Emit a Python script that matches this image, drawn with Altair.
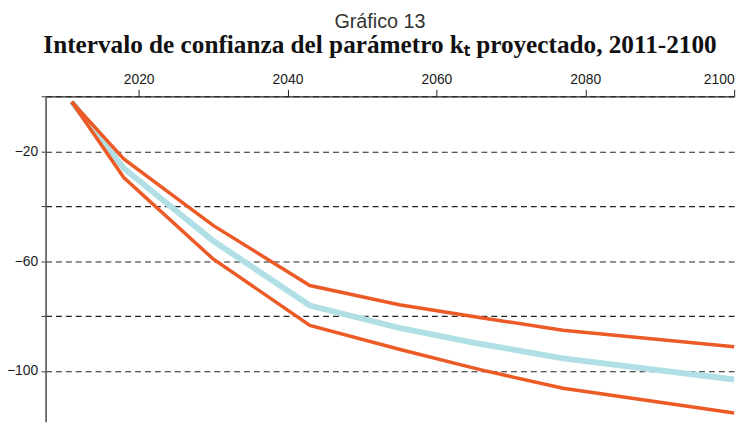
import altair as alt
import pandas as pd

years = [2011, 2018, 2030, 2043, 2055, 2066, 2077, 2100]
upper = [-2.0, -22.8, -47.0, -68.9, -75.9, -80.6, -85.2, -91.2]
central = [-2.0, -26.2, -52.6, -76.2, -84.3, -90.2, -95.4, -103.1]
lower = [-2.0, -29.6, -59.2, -83.4, -92.1, -99.6, -106.3, -115.3]

x_ticks = [2020, 2040, 2060, 2080, 2100]
y_ticks = [0, -20, -40, -60, -80, -100]

rows = []
for name, vals in [("superior", upper), ("central", central), ("inferior", lower)]:
    for yr, v in zip(years, vals):
        rows.append({"year": yr, "k": v, "serie": name})
df = pd.DataFrame(rows)

x_enc = alt.X("year:Q",
              scale=alt.Scale(domain=[2007.5, 2100], nice=False, zero=False),
              axis=alt.Axis(orient="top", values=x_ticks, format="d", grid=False,
                            tickSize=7, labelPadding=3, title=None,
                            domainColor="#222", tickColor="#222", domainWidth=1.2,
                            labelFont="Liberation Sans", labelFontSize=14,
                            labelColor="#1a1a1a"))
y_enc = alt.Y("k:Q",
              scale=alt.Scale(domain=[-118.5, 0], nice=False, zero=False),
              axis=alt.Axis(orient="left", values=y_ticks, grid=True,
                            gridDash=[6, 4], gridColor="#222", gridWidth=1.1,
                            labelExpr="datum.value % 40 == 0 ? '' : datum.label",
                            tickSize=4.5, labelPadding=3.5, title=None,
                            domainColor="#555", tickColor="#333", domainWidth=1.6,
                            labelFont="Liberation Sans", labelFontSize=14,
                            labelColor="#1a1a1a"))

base = alt.Chart(df)
blue = base.transform_filter(alt.datum.serie == "central").mark_line(
    color="#B0E0E6", strokeWidth=6).encode(x=x_enc, y=y_enc)
orange = base.transform_filter(alt.datum.serie != "central").mark_line(
    color="#EC5A26", strokeWidth=3.5).encode(x=x_enc, y=y_enc, detail="serie:N")

chart = alt.layer(blue, orange).properties(
    width=696, height=329,
    autosize=alt.AutoSizeParams(type="none"),
    padding={"left": 38, "top": 87, "right": 14, "bottom": 0},
    title=alt.TitleParams(
        text="Gráfico 13",
        subtitle="Intervalo de confianza del parámetro kₜ proyectado, 2011-2100",
        font="Liberation Sans", fontSize=20, fontWeight="normal", color="#333",
        subtitleFont="Liberation Serif", subtitleFontSize=25.5,
        subtitleFontWeight="bold", subtitleColor="#111",
        anchor="middle", dx=-10, offset=14, subtitlePadding=2),
).configure_view(stroke=None)

chart.save("out.html", embed_options={"renderer": "svg", "actions": False})
